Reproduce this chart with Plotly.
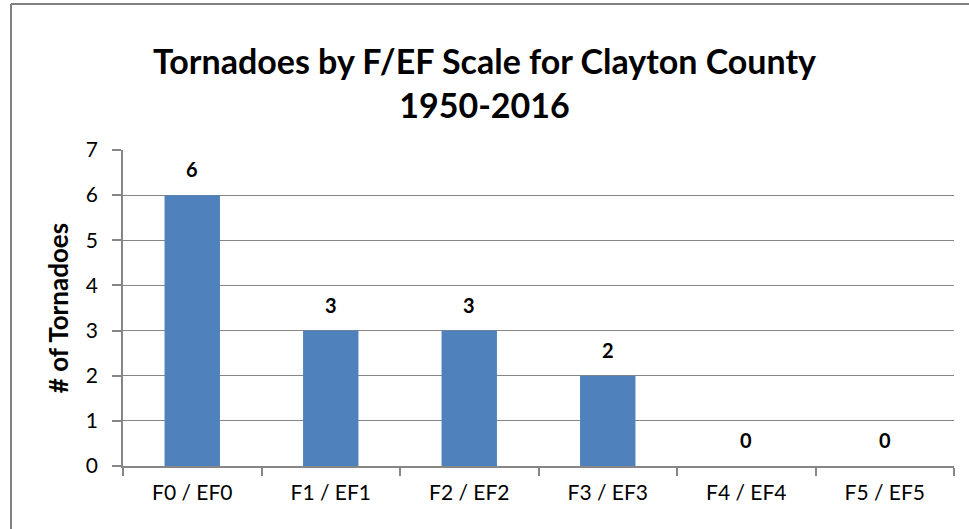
import plotly.graph_objects as go

categories = ["F0 / EF0", "F1 / EF1", "F2 / EF2", "F3 / EF3", "F4 / EF4", "F5 / EF5"]
counts = [6, 3, 3, 2, 0, 0]
y_ticks = [0, 1, 2, 3, 4, 5, 6, 7]

FONT = "Lato, Carlito, Calibri, sans-serif"
GRID = "#868686"

fig = go.Figure()
fig.add_trace(go.Bar(
    x=categories, y=counts,
    marker=dict(color="#4F81BD", line=dict(width=0)),
    width=0.4,
    hoverinfo="x+y",
))

for c, v in zip(categories, counts):
    fig.add_annotation(x=c, y=v, text="<b>%d</b>" % v, showarrow=False,
                       yshift=26, font=dict(family=FONT, size=20, color="black"))

BORDER = dict(color="#808080", width=2)

fig.update_layout(
    width=969, height=529,
    margin=dict(l=123, r=15, t=150, b=63),
    paper_bgcolor="white", plot_bgcolor="white",
    showlegend=False,
    title=dict(text="<b>Tornadoes by F/EF Scale for Clayton County<br>1950-2016</b>",
               x=0.5, xanchor="center", y=0.86, yanchor="middle",
               font=dict(family=FONT, size=34, color="black")),
    xaxis=dict(
        type="category", tickson="boundaries", ticks="outside", ticklen=8,
        tickcolor=GRID, tickwidth=1.5, showline=True, linecolor=GRID, linewidth=1.5,
        showgrid=False, tickfont=dict(family=FONT, size=21, color="black"),
        ticklabelstandoff=7,
        range=[-0.5, 5.5],
    ),
    yaxis=dict(
        range=[0, 7], tickvals=y_ticks, ticks="outside", ticklen=9, tickcolor=GRID,
        tickwidth=1.5,
        showline=True, linecolor=GRID, linewidth=1.5, showgrid=True, gridcolor=GRID,
        gridwidth=1.2, zeroline=False, tickfont=dict(family=FONT, size=21, color="black"),
        ticklabelstandoff=10,
        title=dict(text="<b># of Tornadoes</b>", font=dict(family=FONT, size=26, color="black"),
                   standoff=10),
    ),
    shapes=[
        dict(type="line", xref="paper", yref="paper", x0=-0.1348, x1=-0.1348, y0=-0.3, y1=1.462,
             line=BORDER),
        dict(type="line", xref="paper", yref="paper", x0=-0.1348, x1=1.1, y0=1.462, y1=1.462,
             line=BORDER),
    ],
)

fig.write_html(
    "out.html",
    post_script="document.body.style.margin='0';document.body.style.overflow='hidden';"
                "document.documentElement.style.overflow='hidden';",
    config={"displayModeBar": False},
)
